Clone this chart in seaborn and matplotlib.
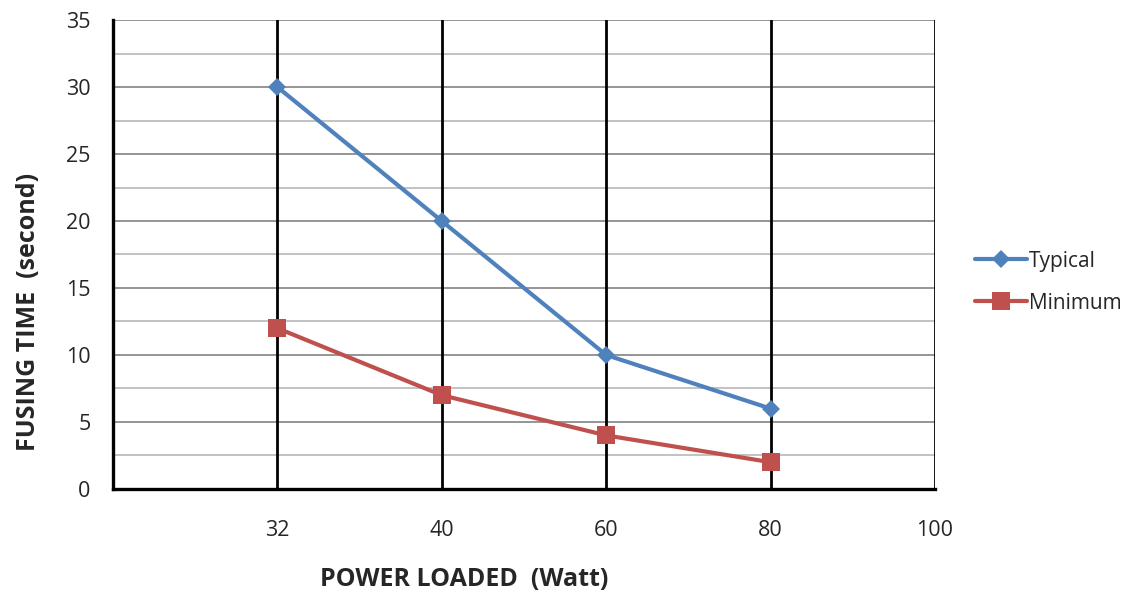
import numpy as np
import pandas as pd
import matplotlib
matplotlib.use("Agg")
import matplotlib.pyplot as plt
import seaborn as sns
from matplotlib.ticker import MultipleLocator

# data
power_labels = ["32", "40", "60", "80", "100"]
typical = [30, 20, 10, 6]
minimum = [12, 7, 4, 2]

sns.set_style("white")
plt.rcParams['font.family'] = ['Open Sans', 'DejaVu Sans']

# categories sit at positions 1..5 like an Excel category axis
pos = np.arange(1, len(power_labels) + 1)
df = pd.DataFrame({
    "pos": np.concatenate([pos[:len(typical)], pos[:len(minimum)]]),
    "time": typical + minimum,
    "series": ["Typical"] * len(typical) + ["Minimum"] * len(minimum),
})

fig = plt.figure(figsize=(11.33, 5.94), dpi=100)
ax = fig.add_axes([0.0997, 0.1768, 0.7255, 0.7895])

palette = {"Typical": "#4F81BD", "Minimum": "#C0504D"}
markers = {"Typical": "D", "Minimum": "s"}
sizes = {"Typical": 9.5, "Minimum": 13}
for name in ["Typical", "Minimum"]:
    sub = df[df.series == name]
    sns.lineplot(data=sub, x="pos", y="time", ax=ax, color=palette[name],
                 marker=markers[name], markersize=sizes[name], linewidth=3,
                 markeredgewidth=0, label=name, zorder=5)

ax.set_xlim(0, 5)
ax.set_ylim(0, 35)
ax.set_xticks(np.arange(0, 6))
ax.set_xticklabels([""] + power_labels)
ax.yaxis.set_major_locator(MultipleLocator(5))
ax.yaxis.set_minor_locator(MultipleLocator(2.5))

# horizontal grid
ax.grid(axis="y", which="major", color="#8c8c8c", linewidth=1.3, zorder=0)
ax.grid(axis="y", which="minor", color="#bdbdbd", linewidth=1.3, zorder=0)
# vertical black lines at every category
for p in pos:
    ax.axvline(p, color="black", linewidth=2, zorder=1)

for side in ["top", "right"]:
    ax.spines[side].set_visible(False)
for side in ["left", "bottom"]:
    ax.spines[side].set_linewidth(2.4)
    ax.spines[side].set_color("black")
    ax.spines[side].set_zorder(6)

ax.tick_params(axis="both", which="major", direction="out", length=6, width=2,
               color="black", labelsize=15.5)
ax.tick_params(axis="y", which="minor", length=0)
ax.tick_params(axis="y", pad=10)
ax.tick_params(axis="x", pad=16)

# axis titles sit off-centre in the original
ax.set_xlabel("POWER LOADED  (Watt)", fontsize=18, fontweight="bold")
ax.set_ylabel("FUSING TIME  (second)", fontsize=18, fontweight="bold")
ax.xaxis.set_label_coords(0.427, -0.166)
ax.yaxis.set_label_coords(-0.088, 0.377)

ax.get_legend().remove()
handles, labels = ax.get_legend_handles_labels()
fig.legend(handles, labels, loc="center left", bbox_to_anchor=(0.853, 0.525),
           frameon=False, fontsize=15, handlelength=2.5, handletextpad=0.1,
           labelspacing=1.0, borderaxespad=0)

fig.savefig("out.png", dpi=100)
